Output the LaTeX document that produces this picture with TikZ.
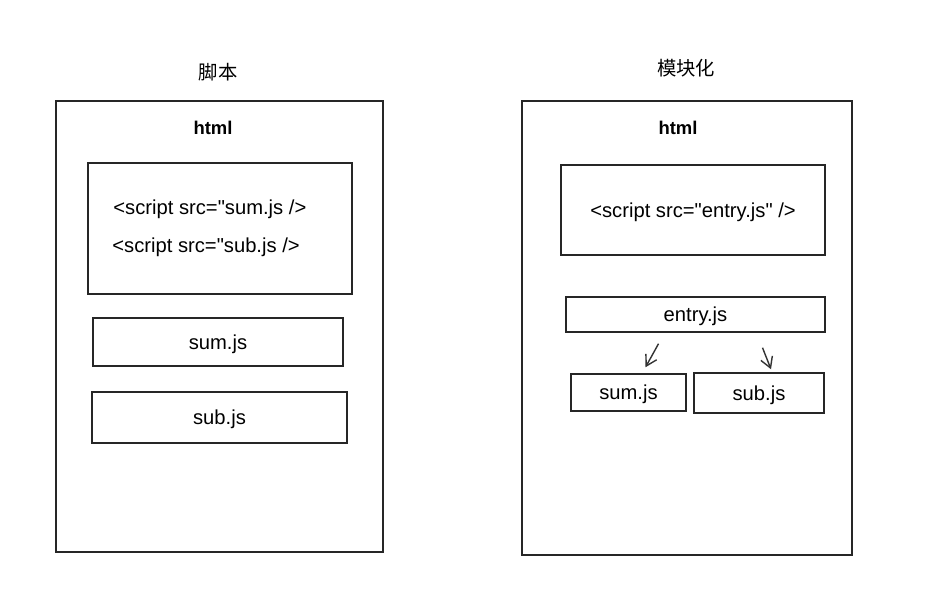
\documentclass[tikz,border=0pt]{standalone}
\usepackage{fontspec}
\setmainfont{Liberation Sans}[Ligatures=TeXOff]
\newfontfamily\cjk{Noto Sans CJK SC}
\usepackage{tikz}
\usetikzlibrary{arrows.meta}
\usepackage{xcolor}

\begin{document}
\begin{tikzpicture}[x=0.02cm, y=-0.02cm]
        % ================= 样式定义 =================
        \tikzset{
            % 手绘风格方框
            sbox/.style={draw=black!85, line width=0.85pt, fill=white, inner sep=0pt},
            % 普通文字
            txt/.style={font=\fontsize{11.5}{13}\selectfont, text=black, text depth=0pt},
            % 标题 (中文)
            ttl/.style={font=\cjk\fontsize{11}{13}\selectfont, text=black},
            % html 标签
            hlabel/.style={font=\bfseries\fontsize{10.5}{12}\selectfont, text=black},
            % 箭头
            arr/.style={draw=black!80, line width=0.8pt, -{Straight Barb[length=6pt, width=7pt]}}
        }
        \useasboundingbox (0,0) rectangle (935,607);

        % ================= 左侧:脚本 =================
        \node[ttl] (t_script) at (218,72) {脚本};
        \node[sbox, minimum width=6.54cm, minimum height=9.02cm] (l_html) at (219.5,326.5) {};
        \node[hlabel] (l_hl) at (213,128) {html};

        \node[sbox, minimum width=5.28cm, minimum height=2.62cm] (l_tags) at (220,228.5) {};
        \node[txt, anchor=west, inner sep=0pt] (l_tag1) at (113,207) {<script src="sum.js />};
        \node[txt, anchor=west, inner sep=0pt] (l_tag2) at (112,245) {<script src="sub.js />};

        \node[sbox, txt, minimum width=5.0cm, minimum height=0.96cm] (l_sum) at (218,342) {sum.js};
        \node[sbox, txt, minimum width=5.1cm, minimum height=1.02cm] (l_sub) at (219.5,417.5) {sub.js};

        % ================= 右侧:模块化 =================
        \node[ttl] (t_mod) at (686,68) {模块化};
        \node[sbox, minimum width=6.6cm, minimum height=9.08cm] (r_html) at (687,328) {};
        \node[hlabel] (r_hl) at (678,128) {html};

        \node[sbox, txt, minimum width=5.28cm, minimum height=1.8cm] (r_tags) at (693,210) {<script src="entry.js" />};

        \node[sbox, txt, minimum width=5.18cm, minimum height=0.7cm] (r_entry) at (695.5,314.5) {entry.js};
        \node[sbox, txt, minimum width=2.3cm, minimum height=0.74cm] (r_sum) at (628.5,392.5) {sum.js};
        \node[sbox, txt, minimum width=2.6cm, minimum height=0.8cm] (r_sub) at (759,393) {sub.js};

        % entry.js 依赖 sum.js / sub.js
        \draw[arr] ([shift={(-37,11)}]r_entry.south) -- ([shift={(17,-6)}]r_sum.north);
        \draw[arr] ([shift={(67,15)}]r_entry.south) -- ([shift={(12,-3)}]r_sub.north);

    \end{tikzpicture}
\end{document}
